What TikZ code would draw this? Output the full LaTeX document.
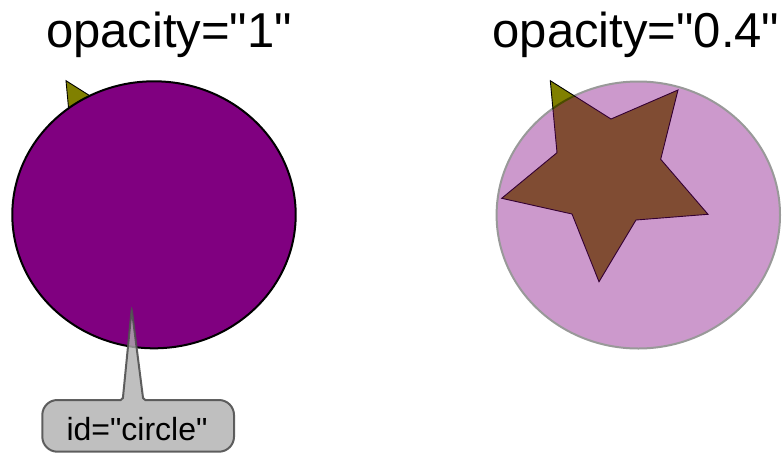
\documentclass[tikz,border=0pt]{standalone}
\usepackage{fontspec}
\setmainfont{Liberation Sans}[Ligatures=TeXOff]
\usetikzlibrary{shapes.geometric}
\definecolor{olivec}{HTML}{808000}
\definecolor{purplec}{HTML}{800080}
\definecolor{calloutfill}{HTML}{B0B0B0}
\definecolor{calloutline}{HTML}{505050}
\begin{document}
\begin{tikzpicture}[x=1pt,y=-1pt,
  title/.style={font=\fontsize{49}{58}\selectfont, anchor=base, inner sep=0},
  starshape/.style={fill=olivec, draw=black, line width=0.9pt, line join=miter},
  disc/.style={ellipse, draw=black, fill=purplec, line width=2pt, minimum width=283.4pt, minimum height=267pt, inner sep=0},
  callout/.style={fill=calloutfill, fill opacity=0.8, draw=calloutline, draw opacity=0.9, line width=2pt},
  calltext/.style={font=\fontsize{32}{38}\selectfont, anchor=base, inner sep=0}]
\useasboundingbox (0,0) rectangle (782,461);
\fill[white] (0,0) rectangle (782,461);
% titles
\node[title] (t1) at (169,47) {opacity="1"};
\node[title] (t2) at (636,47) {opacity="0.4"};
% left: star then opaque circle
\begin{scope}[xshift=-484.3pt]
\draw[starshape] (550.3,80.7) -- (611,119) -- (678,90) -- (660.7,159.3) -- (708,214.3) -- (636,220) -- (599,281.7) -- (572,214) -- (501.7,198.3) -- (557,152.7) -- cycle;
\end{scope}
\node[disc] (c1) at (154,214.8) {};
% right: star then translucent circle
\draw[starshape] (550.3,80.7) -- (611,119) -- (678,90) -- (660.7,159.3) -- (708,214.3) -- (636,220) -- (599,281.7) -- (572,214) -- (501.7,198.3) -- (557,152.7) -- cycle;
\begin{scope}[transparency group, opacity=0.4]
\node[disc] (c2) at (638.3,215) {};
\end{scope}
% callout
\coordinate (tip) at (131.7,309);
\draw[callout] (tip) [rounded corners=2pt] -- (143.3,400) [rounded corners=15pt] -- (234,400) -- (234,451.7) -- (42.3,451.7) -- (42.3,400) [rounded corners=2pt] -- (122.7,400) -- cycle;
\node[calltext] (lbl) at (137,440) {id="circle"};
\end{tikzpicture}
\end{document}
